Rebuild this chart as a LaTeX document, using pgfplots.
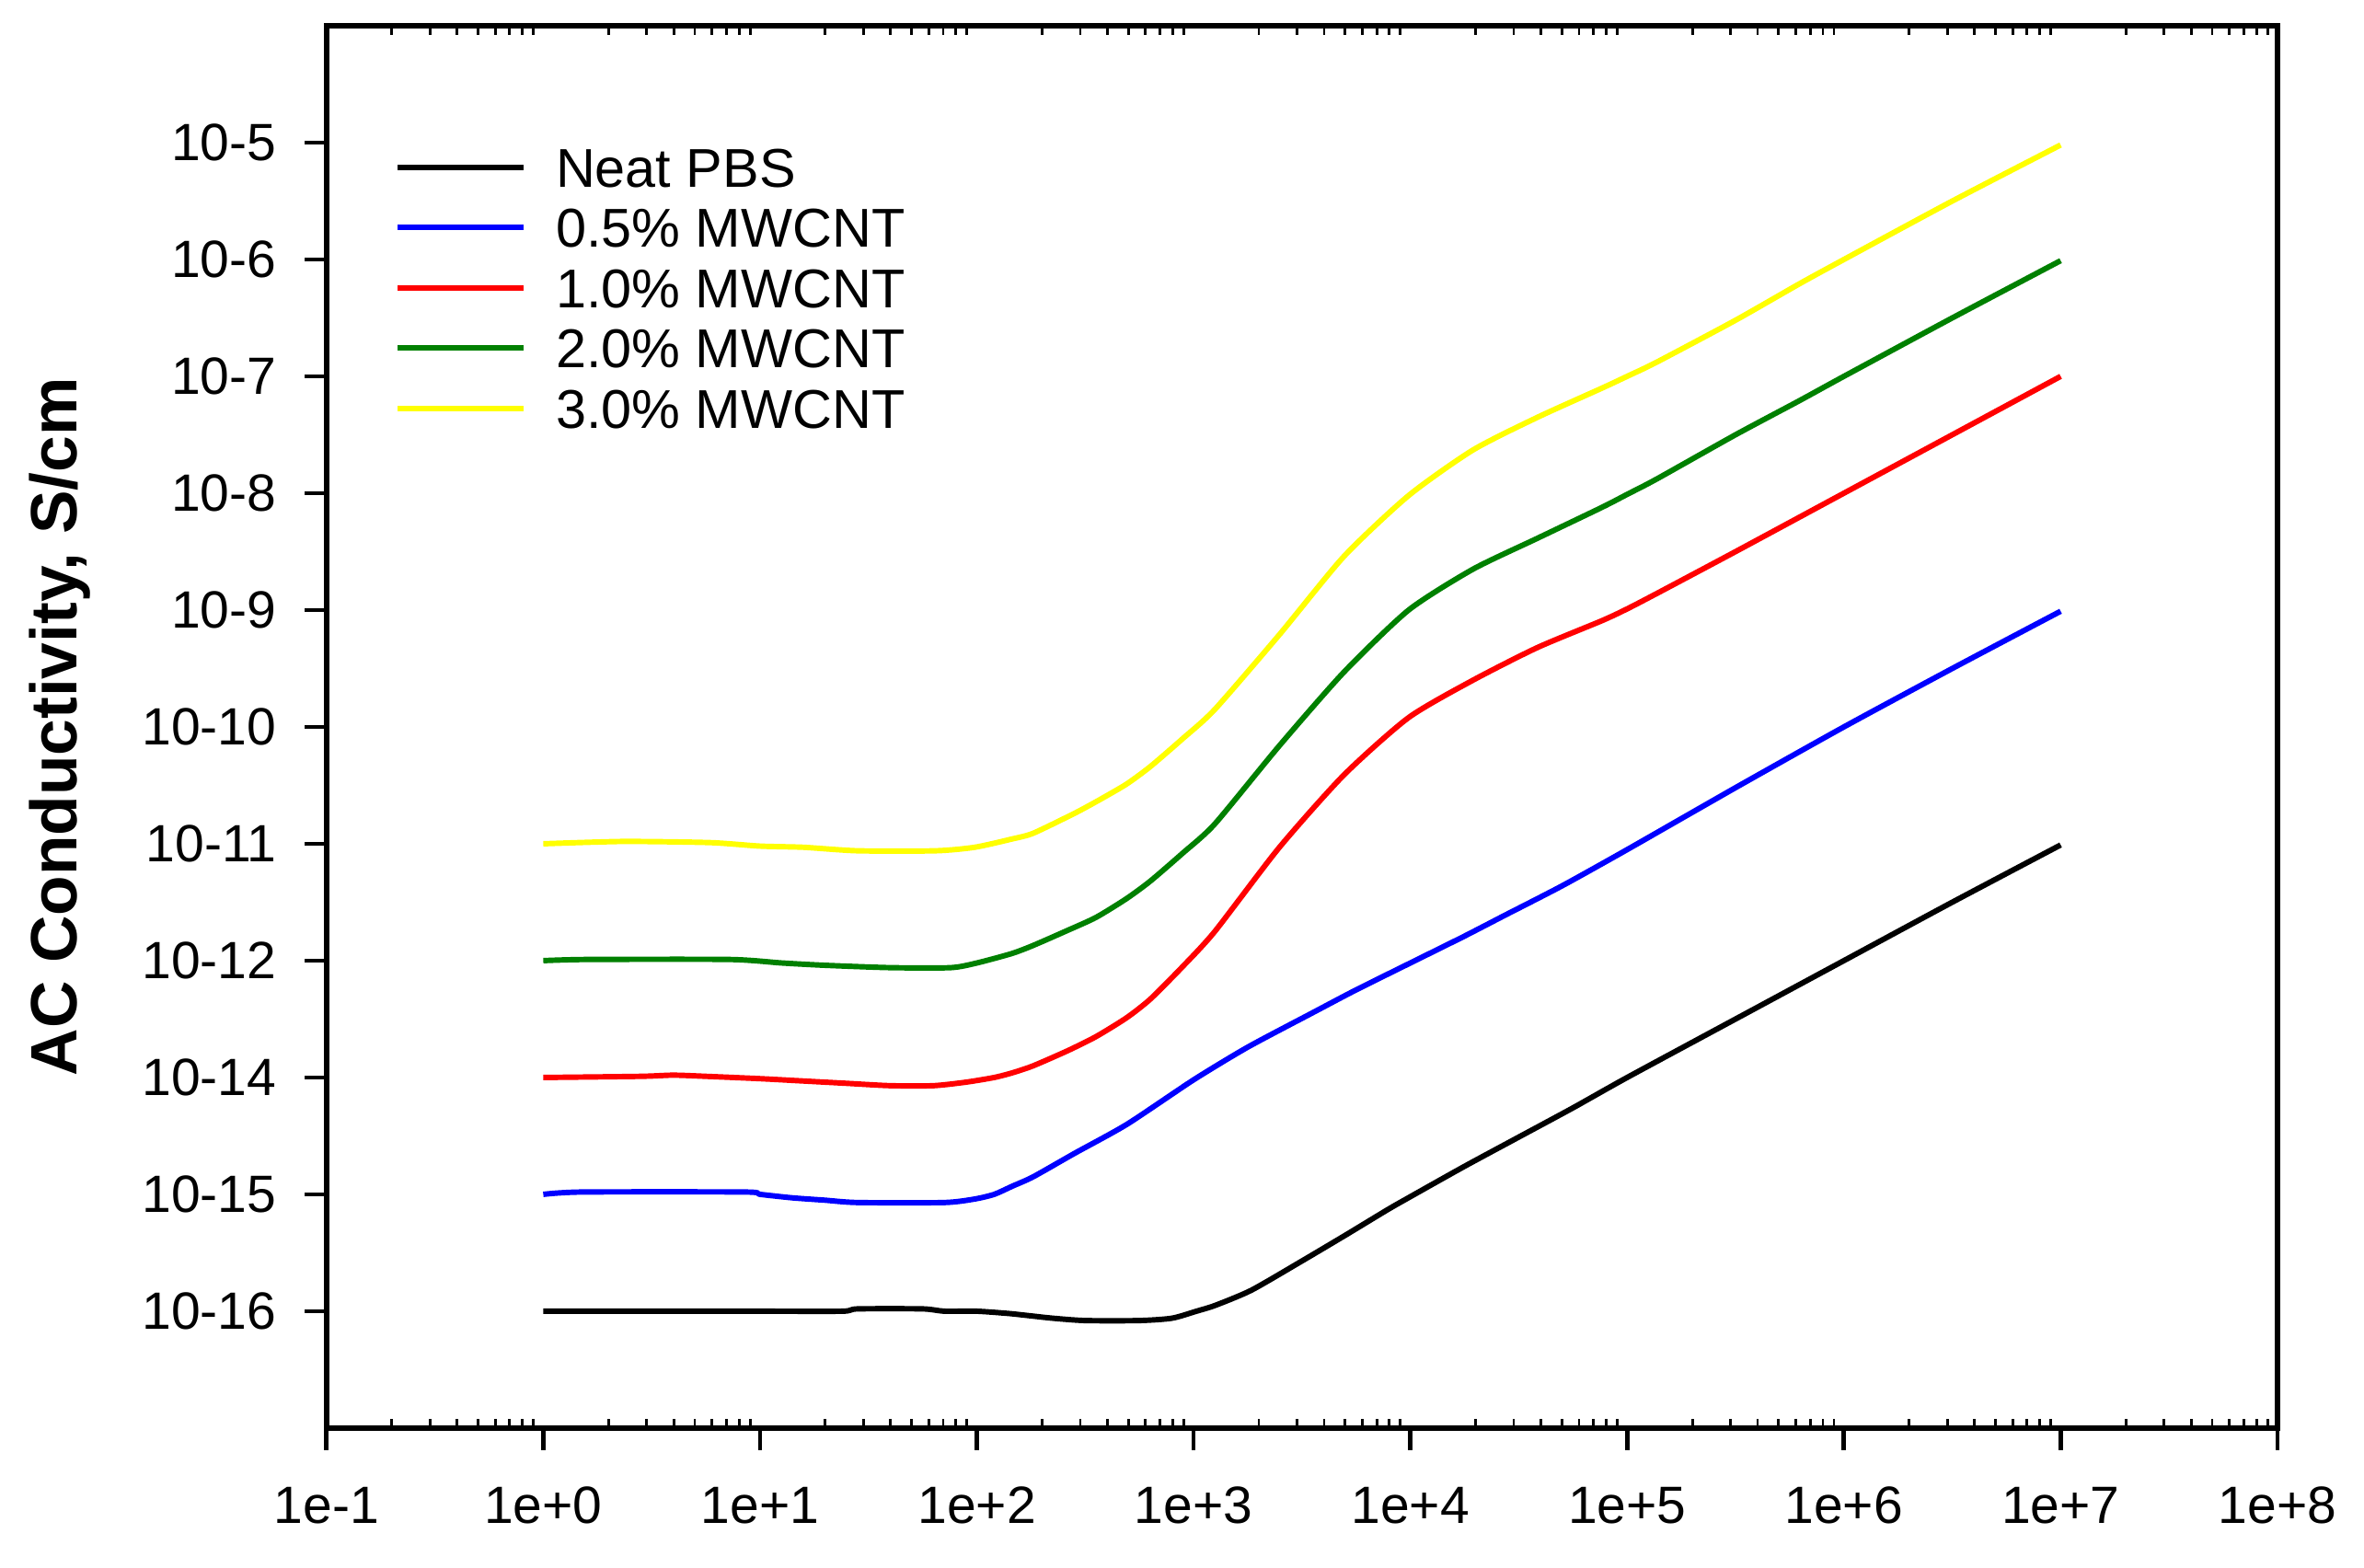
\documentclass[border=0pt]{standalone}
\usepackage{fontspec}
\setmainfont{Liberation Sans}
\usepackage{pgfplots}
\pgfplotsset{compat=1.18}
\definecolor{cgreen}{RGB}{0,128,0}
\definecolor{cyellow}{RGB}{255,255,0}
\begin{document}
\begin{tikzpicture}
% minor ticks (inward, top and bottom) from a frame axis with zero-length major ticks
\begin{axis}[
  scale only axis,
  width=446.3pt, height=320.8pt,
  xmin=-1, xmax=8, ymin=-16, ymax=-4,
  axis line style={line width=1.15pt},
  xtick={-1,0,1,2,3,4,5,6,7,8},
  xticklabels={},
  ytick=\empty,
  minor xtick={-0.69897,-0.52288,-0.39794,-0.30103,-0.22185,-0.15490,-0.09691,-0.04576,
    0.30103,0.47712,0.60206,0.69897,0.77815,0.84510,0.90309,0.95424,
    1.30103,1.47712,1.60206,1.69897,1.77815,1.84510,1.90309,1.95424,
    2.30103,2.47712,2.60206,2.69897,2.77815,2.84510,2.90309,2.95424,
    3.30103,3.47712,3.60206,3.69897,3.77815,3.84510,3.90309,3.95424,
    4.30103,4.47712,4.60206,4.69897,4.77815,4.84510,4.90309,4.95424,
    5.30103,5.47712,5.60206,5.69897,5.77815,5.84510,5.90309,5.95424,
    6.30103,6.47712,6.60206,6.69897,6.77815,6.84510,6.90309,6.95424,
    7.30103,7.47712,7.60206,7.69897,7.77815,7.84510,7.90309,7.95424},
  xtick pos=both,
  tick align=inside,
  major tick length=0pt,
  minor tick length=2pt,
  minor tick style={line width=0.6pt, black},
]
\end{axis}
% data axis with outward major ticks and labels
\begin{axis}[
  scale only axis,
  width=446.3pt, height=320.8pt,
  xmin=-1, xmax=8, ymin=-16, ymax=-4,
  axis line style={line width=1.15pt},
  xtick={-1,0,1,2,3,4,5,6,7,8},
  xticklabels={1e-1,1e+0,1e+1,1e+2,1e+3,1e+4,1e+5,1e+6,1e+7,1e+8},
  minor xtick={},
  ytick={-5,-6,-7,-8,-9,-10,-11,-12,-13,-14,-15},
  yticklabels={10-5,10-6,10-7,10-8,10-9,10-10,10-11,10-12,10-14,10-15,10-16},
  xtick pos=left, ytick pos=left,
  tick align=outside,
  major tick length=5pt,
  major tick style={line width=1pt, black},
  ticklabel style={font=\fontsize{12}{14}\selectfont, inner sep=0pt},
  xticklabel style={yshift=-8.3pt},
  yticklabel style={xshift=-6.3pt},
  ylabel={AC Conductivity, S/cm},
  ylabel style={font=\fontsize{15}{18}\selectfont\bfseries, at={(axis description cs:-0.1282,0.5)}, anchor=base, inner sep=0pt},
  legend cell align=left,
  legend image code/.code={\draw[#1] (0pt,0pt) -- (28.7pt,0pt);},
  legend style={at={(axis description cs:0,1)}, anchor=north west, xshift=15.7pt, yshift=-27.9pt,
    draw=none, fill=none, inner sep=0pt, outer sep=0pt, row sep=4.78pt,
    font=\fontsize{12.5}{15}\selectfont,
    nodes={inner sep=0pt, text height=9pt, text depth=0pt},
    /tikz/every odd column/.append style={column sep=6.8pt}},
  every axis plot/.append style={line width=1.25pt, line join=round, smooth, tension=0.4},
]
\addplot[black] coordinates {(0,-15.0)(0.5,-15.0)(1.0,-15.0)(1.38,-15.0)(1.45,-14.98)(1.75,-14.98)(1.85,-15.0)(2.0,-15.0)(2.15,-15.02)(2.25,-15.04)(2.35,-15.06)(2.5,-15.08)(2.75,-15.08)(2.9,-15.06)(3.013,-15.0)(3.1,-14.95)(3.267,-14.82)(3.5,-14.57)(3.7,-14.35)(3.896,-14.13)(4.0,-14.02)(4.25,-13.76)(4.5,-13.51)(4.75,-13.26)(5.0,-13.0)(5.5,-12.5)(6,-12.0)(6.5,-11.5)(7,-11.01)};
\addlegendentry{Neat PBS}
\addplot[blue] coordinates {(0,-14.0)(0.18,-13.98)(0.93,-13.98)(1.0,-14.0)(1.15,-14.03)(1.3,-14.05)(1.45,-14.07)(1.85,-14.07)(1.99,-14.04)(2.08,-14.0)(2.164,-13.93)(2.26,-13.85)(2.45,-13.65)(2.693,-13.4)(3.0,-13.02)(3.25,-12.74)(3.545,-12.45)(3.75,-12.25)(4.0,-12.02)(4.25,-11.79)(4.438,-11.61)(4.7,-11.36)(5.0,-11.05)(5.5,-10.52)(6,-10.0)(6.5,-9.5)(7,-9.01)};
\addlegendentry{0.5\% MWCNT}
\addplot[red] coordinates {(0,-13.0)(0.45,-12.99)(0.6,-12.98)(0.75,-12.99)(1.0,-13.01)(1.2,-13.03)(1.4,-13.05)(1.6,-13.07)(1.8,-13.07)(1.95,-13.04)(2.08,-13.0)(2.164,-12.96)(2.26,-12.90)(2.42,-12.77)(2.55,-12.65)(2.69,-12.49)(2.8,-12.33)(2.95,-12.05)(3.098,-11.75)(3.396,-11.03)(3.694,-10.41)(3.992,-9.92)(4.289,-9.60)(4.587,-9.32)(4.885,-9.09)(5.0,-8.99)(5.135,-8.86)(5.5,-8.5)(6,-8.0)(6.5,-7.5)(7,-7.0)};
\addlegendentry{1.0\% MWCNT}
\addplot[cgreen] coordinates {(0,-12.0)(0.2,-11.99)(0.86,-11.99)(1.1,-12.02)(1.3,-12.04)(1.6,-12.06)(1.88,-12.06)(2.0,-12.02)(2.16,-11.94)(2.26,-11.87)(2.42,-11.74)(2.55,-11.63)(2.69,-11.47)(2.8,-11.32)(2.95,-11.08)(3.098,-10.83)(3.396,-10.16)(3.694,-9.53)(3.992,-9.0)(4.289,-8.65)(4.587,-8.385)(4.885,-8.12)(5.0,-8.01)(5.135,-7.88)(5.5,-7.5)(5.793,-7.21)(6,-7.0)(6.5,-6.5)(7,-6.01)};
\addlegendentry{2.0\% MWCNT}
\addplot[cyellow] coordinates {(0,-11.0)(0.37,-10.98)(0.77,-10.99)(1.0,-11.02)(1.2,-11.03)(1.45,-11.06)(1.81,-11.06)(1.99,-11.03)(2.16,-10.96)(2.26,-10.91)(2.45,-10.74)(2.56,-10.63)(2.69,-10.49)(2.8,-10.34)(2.95,-10.1)(3.098,-9.85)(3.396,-9.21)(3.694,-8.54)(3.992,-8.02)(4.289,-7.63)(4.587,-7.35)(4.885,-7.10)(5.0,-7.0)(5.135,-6.88)(5.5,-6.52)(5.793,-6.21)(6,-6.0)(6.5,-5.5)(7,-5.02)};
\addlegendentry{3.0\% MWCNT}
\end{axis}
\pgfresetboundingbox
\useasboundingbox (-74.7pt,-31.8pt) rectangle (466.1pt,326.7pt);
\end{tikzpicture}
\end{document}
